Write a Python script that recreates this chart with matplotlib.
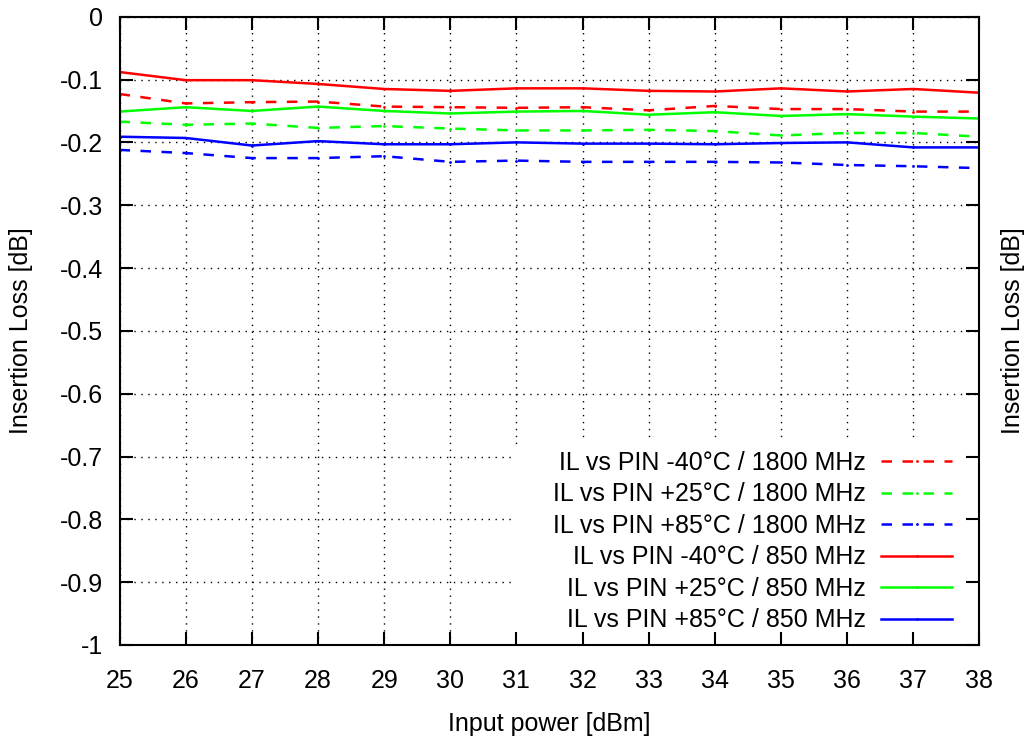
import matplotlib.pyplot as plt
import numpy as np
from matplotlib.ticker import MultipleLocator, FuncFormatter
from matplotlib.patches import Rectangle

plt.rcParams['font.family'] = ['Liberation Sans', 'DejaVu Sans']
plt.rcParams['axes.unicode_minus'] = False

FONT_SIZE = 18
LW = 1.8

# Input power sweep [dBm]
pin = [25, 26, 27, 28, 29, 30, 31, 32, 33, 34, 35, 36, 37, 38]

# Insertion loss [dB]
il_m40_1800 = [-0.123, -0.138, -0.136, -0.135, -0.143, -0.144, -0.145,
               -0.144, -0.149, -0.142, -0.147, -0.147, -0.151, -0.151]
il_p25_1800 = [-0.167, -0.172, -0.170, -0.177, -0.174, -0.178, -0.181,
               -0.181, -0.180, -0.182, -0.189, -0.185, -0.185, -0.191]
il_p85_1800 = [-0.212, -0.217, -0.225, -0.225, -0.222, -0.231, -0.229,
               -0.231, -0.231, -0.231, -0.232, -0.236, -0.238, -0.241]
il_m40_850 = [-0.088, -0.101, -0.101, -0.107, -0.115, -0.118, -0.114,
              -0.114, -0.118, -0.119, -0.114, -0.119, -0.115, -0.121]
il_p25_850 = [-0.151, -0.144, -0.150, -0.143, -0.150, -0.154, -0.151,
              -0.150, -0.156, -0.152, -0.158, -0.155, -0.159, -0.162]
il_p85_850 = [-0.191, -0.193, -0.205, -0.198, -0.203, -0.203, -0.200,
              -0.202, -0.202, -0.203, -0.201, -0.200, -0.208, -0.208]

series = [
    ('IL vs PIN -40°C / 1800 MHz', il_m40_1800, '#ff0000', 'dash'),
    ('IL vs PIN +25°C / 1800 MHz', il_p25_1800, '#00ff00', 'dash'),
    ('IL vs PIN +85°C / 1800 MHz', il_p85_1800, '#0000ff', 'dash'),
    ('IL vs PIN -40°C / 850 MHz', il_m40_850, '#ff0000', 'solid'),
    ('IL vs PIN +25°C / 850 MHz', il_p25_850, '#00ff00', 'solid'),
    ('IL vs PIN +85°C / 850 MHz', il_p85_850, '#0000ff', 'solid'),
]

fig = plt.figure(figsize=(10.27, 7.4), dpi=100)
ax = fig.add_axes([0.1164, 0.1284, 0.8373, 0.849])

for label, vals, color, style in series:
    line, = ax.plot(pin, vals, color=color, lw=LW, marker='.', markersize=2,
                    label=label, zorder=2)
    if style == 'dash':
        line.set_dashes((4.2, 4.2))

ax.set_xlim(25, 38)
ax.set_ylim(-1, 0)
ax.xaxis.set_major_locator(MultipleLocator(1))
ax.yaxis.set_major_locator(MultipleLocator(0.1))
ax.yaxis.set_major_formatter(FuncFormatter(lambda v, _: '%g' % (round(v, 1) + 0.0)))

# dotted grid drawn by hand so the legend box can sit above it but below the ticks
for x in ax.get_xticks():
    ax.axvline(x, color='black', lw=1, ls=(0, (1, 4)), zorder=1)
for y in ax.get_yticks():
    ax.axhline(y, color='black', lw=1, ls=(0, (1, 4)), zorder=1)

for s in ax.spines.values():
    s.set_linewidth(1.5)
ax.tick_params(direction='in', length=9.5, width=1.5, top=True, right=True,
               labelsize=FONT_SIZE)
ax.tick_params(axis='x', pad=17)
ax.tick_params(axis='y', pad=12)

ax.set_xlabel('Input power [dBm]', fontsize=FONT_SIZE, labelpad=14)
ax.set_ylabel('Insertion Loss [dB]', fontsize=FONT_SIZE, labelpad=19)
fig.text(1013 / 1027, 1 - 331 / 740, 'Insertion Loss [dB]', rotation=90,
         ha='center', va='center', fontsize=FONT_SIZE)

leg = ax.legend(loc='lower right', bbox_to_anchor=(0.983, 0.0), borderaxespad=0,
                borderpad=0.5, markerfirst=False, handlelength=2.84,
                handletextpad=0.6, labelspacing=0.3, fontsize=FONT_SIZE,
                frameon=True, fancybox=False, framealpha=1, edgecolor='none',
                facecolor='white', numpoints=1)
leg.set_zorder(1.2)

# gnuplot-style key box: widen the white area left and down to the frame
fig.canvas.draw()
bb = leg.get_window_extent().transformed(ax.transAxes.inverted())
pad_left = 28 / ax.bbox.width
top_trim = 8 / ax.bbox.height
ax.add_patch(Rectangle((bb.x0 - pad_left, 0), 1 - bb.x0 + pad_left, bb.y1 - top_trim,
                       transform=ax.transAxes, facecolor='white', edgecolor='none',
                       zorder=1.15))

fig.savefig('out.png', dpi=100)
